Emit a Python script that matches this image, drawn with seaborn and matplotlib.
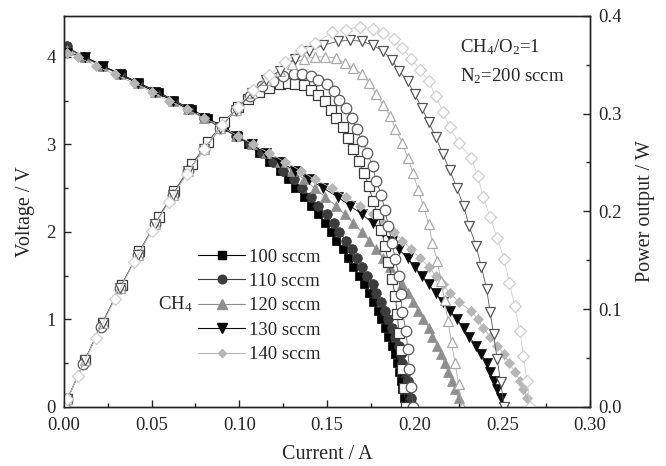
import numpy as np
import matplotlib
matplotlib.use("Agg")
import matplotlib.pyplot as plt
from matplotlib.ticker import MultipleLocator, FormatStrFormatter
from matplotlib.lines import Line2D
import seaborn as sns

# ---------------- data ----------------
labels = ["100 sccm", "110 sccm", "120 sccm", "130 sccm", "140 sccm"]

I_100 = [0.002, 0.012, 0.022, 0.033, 0.043, 0.054, 0.063, 0.073, 0.082, 0.091, 0.099, 0.105, 0.111, 0.117,
         0.123, 0.128, 0.132, 0.137, 0.141, 0.145, 0.149, 0.152, 0.155, 0.159, 0.162, 0.165, 0.168, 0.171,
         0.174, 0.176, 0.179, 0.181, 0.183, 0.185, 0.187, 0.189, 0.190, 0.191, 0.192, 0.193, 0.194, 0.195]
V_100 = [4.1, 4.0, 3.9, 3.8, 3.7, 3.6, 3.5, 3.4, 3.3, 3.2, 3.1, 3.0, 2.9, 2.8, 2.7, 2.6, 2.5, 2.4, 2.3, 2.2, 2.1,
         2.0, 1.9, 1.8, 1.7, 1.6, 1.5, 1.4, 1.3, 1.2, 1.1, 1.0, 0.9, 0.8, 0.7, 0.6, 0.5, 0.4, 0.3, 0.2, 0.1, 0.0]
P_100 = [0.008, 0.048, 0.086, 0.125, 0.159, 0.194, 0.221, 0.248, 0.271, 0.291, 0.307, 0.315, 0.322, 0.326,
         0.330, 0.331, 0.330, 0.329, 0.324, 0.319, 0.313, 0.304, 0.295, 0.286, 0.275, 0.264, 0.252, 0.239,
         0.226, 0.211, 0.197, 0.181, 0.165, 0.148, 0.131, 0.113, 0.095, 0.076, 0.058, 0.039, 0.019, 0.0]

I_110 = [0.002, 0.011, 0.021, 0.032, 0.042, 0.052, 0.062, 0.071, 0.080, 0.089, 0.098, 0.106, 0.113, 0.119,
         0.125, 0.131, 0.136, 0.141, 0.145, 0.150, 0.154, 0.157, 0.161, 0.164, 0.167, 0.170, 0.173, 0.176,
         0.178, 0.181, 0.183, 0.185, 0.187, 0.189, 0.191, 0.192, 0.193, 0.195, 0.196, 0.197, 0.198, 0.199]
V_110 = [4.12, 4.0, 3.9, 3.8, 3.7, 3.6, 3.5, 3.4, 3.3, 3.2, 3.1, 3.0, 2.9, 2.8, 2.7, 2.6, 2.5, 2.4, 2.3, 2.2, 2.1,
         2.0, 1.9, 1.8, 1.7, 1.6, 1.5, 1.4, 1.3, 1.2, 1.1, 1.0, 0.9, 0.8, 0.7, 0.6, 0.5, 0.4, 0.3, 0.2, 0.1, 0.0]
P_110 = [0.008, 0.044, 0.082, 0.122, 0.155, 0.187, 0.217, 0.241, 0.264, 0.285, 0.304, 0.318, 0.328, 0.333,
         0.338, 0.341, 0.340, 0.338, 0.334, 0.330, 0.323, 0.314, 0.306, 0.295, 0.284, 0.272, 0.260, 0.246,
         0.231, 0.217, 0.201, 0.185, 0.168, 0.151, 0.134, 0.115, 0.097, 0.078, 0.059, 0.039, 0.020, 0.0]

I_120 = [0.002, 0.012, 0.022, 0.032, 0.042, 0.052, 0.062, 0.071, 0.080, 0.089, 0.098, 0.107, 0.115, 0.123,
         0.130, 0.137, 0.143, 0.149, 0.155, 0.160, 0.165, 0.170, 0.174, 0.178, 0.182, 0.186, 0.189, 0.193,
         0.196, 0.199, 0.202, 0.205, 0.208, 0.210, 0.213, 0.215, 0.217, 0.219, 0.221, 0.223, 0.225, 0.227]
V_120 = [4.08, 4.0, 3.9, 3.8, 3.7, 3.6, 3.5, 3.4, 3.3, 3.2, 3.1, 3.0, 2.9, 2.8, 2.7, 2.6, 2.5, 2.4, 2.3, 2.2, 2.1,
         2.0, 1.9, 1.8, 1.7, 1.6, 1.5, 1.4, 1.3, 1.2, 1.1, 1.0, 0.9, 0.8, 0.7, 0.6, 0.5, 0.4, 0.3, 0.2, 0.1, 0.0]
P_120 = [0.008, 0.048, 0.086, 0.122, 0.155, 0.187, 0.217, 0.241, 0.264, 0.285, 0.304, 0.321, 0.334, 0.344,
         0.351, 0.356, 0.358, 0.358, 0.357, 0.352, 0.347, 0.340, 0.331, 0.320, 0.309, 0.298, 0.284, 0.270,
         0.255, 0.239, 0.222, 0.205, 0.187, 0.168, 0.149, 0.129, 0.109, 0.088, 0.066, 0.045, 0.023, 0.0]

I_130 = [0.002, 0.012, 0.022, 0.032, 0.042, 0.052, 0.062, 0.071, 0.080, 0.089, 0.098, 0.107, 0.115, 0.123,
         0.132, 0.140, 0.148, 0.156, 0.163, 0.170, 0.176, 0.182, 0.187, 0.191, 0.196, 0.200, 0.204, 0.208,
         0.212, 0.216, 0.220, 0.224, 0.228, 0.231, 0.235, 0.238, 0.241, 0.243, 0.245, 0.247, 0.249, 0.251]
V_130 = [4.05, 4.0, 3.9, 3.8, 3.7, 3.6, 3.5, 3.4, 3.3, 3.2, 3.1, 3.0, 2.9, 2.8, 2.7, 2.6, 2.5, 2.4, 2.3, 2.2, 2.1,
         2.0, 1.9, 1.8, 1.7, 1.6, 1.5, 1.4, 1.3, 1.2, 1.1, 1.0, 0.9, 0.8, 0.7, 0.6, 0.5, 0.4, 0.3, 0.2, 0.1, 0.0]
P_130 = [0.008, 0.048, 0.086, 0.122, 0.155, 0.187, 0.217, 0.241, 0.264, 0.285, 0.304, 0.321, 0.334, 0.344,
         0.356, 0.364, 0.370, 0.374, 0.375, 0.374, 0.370, 0.364, 0.355, 0.344, 0.333, 0.320, 0.306, 0.291,
         0.276, 0.259, 0.242, 0.224, 0.205, 0.185, 0.165, 0.143, 0.121, 0.097, 0.074, 0.049, 0.025, 0.0]

I_140 = [0.002, 0.008, 0.018, 0.029, 0.040, 0.050, 0.060, 0.070, 0.080, 0.090, 0.099, 0.108, 0.117, 0.126,
         0.135, 0.143, 0.153, 0.161, 0.169, 0.176, 0.182, 0.188, 0.193, 0.198, 0.203, 0.208, 0.212, 0.216,
         0.220, 0.225, 0.232, 0.236, 0.239, 0.243, 0.247, 0.251, 0.254, 0.257, 0.260, 0.262, 0.264, 0.266]
V_140 = [4.05, 4.0, 3.9, 3.8, 3.7, 3.6, 3.5, 3.4, 3.3, 3.2, 3.1, 3.0, 2.9, 2.8, 2.7, 2.6, 2.5, 2.4, 2.3, 2.2, 2.1,
         2.0, 1.9, 1.8, 1.7, 1.6, 1.5, 1.4, 1.3, 1.2, 1.1, 1.0, 0.9, 0.8, 0.7, 0.6, 0.5, 0.4, 0.3, 0.2, 0.1, 0.0]
P_140 = [0.008, 0.032, 0.070, 0.110, 0.148, 0.180, 0.210, 0.238, 0.264, 0.288, 0.307, 0.324, 0.339, 0.353,
         0.365, 0.372, 0.383, 0.386, 0.389, 0.387, 0.382, 0.376, 0.367, 0.356, 0.345, 0.333, 0.318, 0.302,
         0.286, 0.270, 0.255, 0.236, 0.215, 0.194, 0.173, 0.151, 0.127, 0.103, 0.078, 0.052, 0.026, 0.0]

currents = [I_100, I_110, I_120, I_130, I_140]
voltages = [V_100, V_110, V_120, V_130, V_140]
powers = [P_100, P_110, P_120, P_130, P_140]

# ---------------- style ----------------
markers = ["s", "o", "^", "v", "D"]
msizes = [6.3, 7.0, 7.3, 7.3, 5.3]
v_colors = ["#000000", "#3c3c3c", "#8e8e8e", "#0a0a0a", "#b6b6b6"]
p_colors = ["#3a3a3a", "#5a5a5a", "#aaaaaa", "#555555", "#cfcfcf"]

sns.set_style("ticks")
plt.rcParams["font.family"] = ["Liberation Serif", "DejaVu Serif"]
plt.rcParams["mathtext.fontset"] = "custom"
plt.rcParams["mathtext.rm"] = "Liberation Serif"
plt.rcParams["mathtext.it"] = "Liberation Serif:italic"

fig = plt.figure(figsize=(6.66, 4.66), dpi=100)
ax = fig.add_axes([0.096, 0.127, 0.790, 0.839])
ax2 = ax.twinx()

for I, V, c, m, ms in zip(currents, voltages, v_colors, markers, msizes):
    sns.lineplot(x=I, y=V, ax=ax, sort=False, estimator=None, color=c, linewidth=0.6,
                 marker=m, markersize=ms, markerfacecolor=c, markeredgecolor=c, markeredgewidth=0.5)

for I, P, c, m, ms in zip(currents, powers, p_colors, markers, msizes):
    x = [0.0] + list(I)
    y = [0.0] + list(P)
    sns.lineplot(x=x, y=y, ax=ax2, sort=False, estimator=None, color=c, linewidth=0.6,
                 marker=m, markersize=ms + 0.6, markerfacecolor="white", markeredgecolor=c,
                 markeredgewidth=0.9)

ax.set_xlim(0, 0.30)
ax.set_ylim(0, 4.47)
ax2.set_ylim(0, 0.4)

ax.xaxis.set_major_locator(MultipleLocator(0.05))
ax.xaxis.set_minor_locator(MultipleLocator(0.025))
ax.xaxis.set_major_formatter(FormatStrFormatter("%.2f"))
ax.yaxis.set_major_locator(MultipleLocator(1))
ax.yaxis.set_minor_locator(MultipleLocator(0.5))
ax.yaxis.set_major_formatter(FormatStrFormatter("%d"))
ax2.yaxis.set_major_locator(MultipleLocator(0.1))
ax2.yaxis.set_minor_locator(MultipleLocator(0.05))
ax2.yaxis.set_major_formatter(FormatStrFormatter("%.1f"))

for a in (ax, ax2):
    a.tick_params(which="both", direction="in", labelsize=13.5, pad=6, width=1.0, color="#222222")
    a.tick_params(which="major", length=5)
    a.tick_params(which="minor", length=3)
    for s in a.spines.values():
        s.set_linewidth(1.0)
        s.set_color("#222222")
        s.set_visible(True)
ax.tick_params(which="both", top=False, right=False)
ax.tick_params(axis="x", pad=7)
ax2.tick_params(which="both", left=False, right=True, top=False)

ax.set_xlabel("Current / A", fontsize=14.5, labelpad=8)
ax.set_ylabel("Voltage / V", fontsize=14.5, labelpad=8)
ax2.set_ylabel("Power output / W", fontsize=14.5, labelpad=10)

ax.text(0.752, 0.92, r"CH$_{\mathrm{4}}$/O$_{\mathrm{2}}$=1", transform=ax.transAxes, fontsize=13.5,
        ha="left", va="center")
ax.text(0.752, 0.845, r"N$_{\mathrm{2}}$=200 sccm", transform=ax.transAxes, fontsize=13.5,
        ha="left", va="center")
ax.text(0.178, 0.262, r"CH$_{\mathrm{4}}$", transform=ax.transAxes, fontsize=13.5,
        ha="left", va="center")

handles = [Line2D([0], [0], color=c, lw=0.8, marker=m, markersize=ms - 0.8, markerfacecolor=c,
                  markeredgecolor=c) for c, m, ms in zip(v_colors, markers, msizes)]
leg = ax2.legend(handles, labels, loc="upper left", bbox_to_anchor=(0.255, 0.405), frameon=False,
                 fontsize=13.5, handlelength=2.5, handletextpad=0.2, labelspacing=0.39,
                 borderpad=0, borderaxespad=0)

fig.savefig("out.png", dpi=100)
